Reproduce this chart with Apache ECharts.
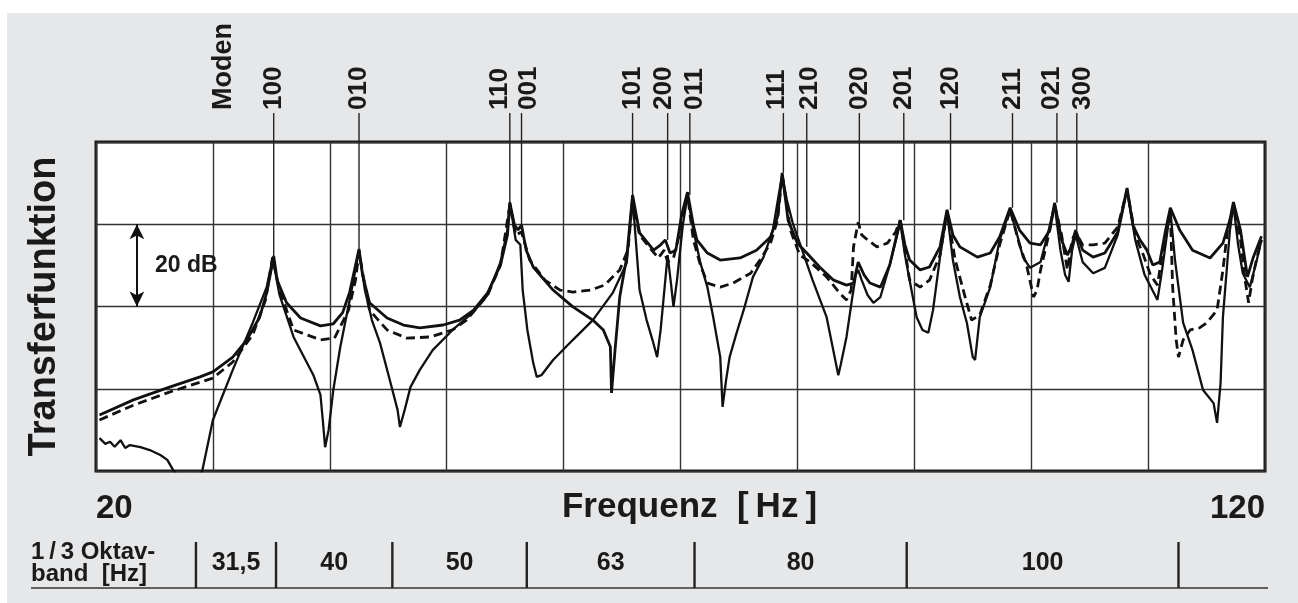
<!DOCTYPE html>
<html>
<head>
<meta charset="utf-8">
<script src="https://cdn.jsdelivr.net/npm/echarts@6/dist/echarts.min.js"></script>
<style>
html, body { margin: 0; background: #fff; }
#panel { position: absolute; left: 7px; top: 13px; right: 0; bottom: 0; background: #e6e7e9; }
#chart { position: absolute; left: 0; top: 0; width: 1298px; height: 603px; }
</style>
</head>
<body>
<div id="panel"></div>
<div id="chart"></div>
<script>
const FONT = '"Liberation Sans", Arial, Helvetica, sans-serif';
const INK = '#1a1a1a';

// transfer functions, [frequency Hz, level dB]
const curveA = [
    [20.3, 13.6], [23.2, 17.3], [26.1, 20.2], [28.9, 22.9], [30.0, 24.1], [31.7, 27.7], [32.9, 31.9], [34.0, 37.4],
    [34.6, 43.3], [35.1, 50.6], [35.2, 52.3], [35.5, 46.4], [36.3, 40.9], [37.5, 37.2], [39.2, 35.3], [40.3, 35.8],
    [41.1, 38.5], [41.7, 43.5], [42.2, 50.0], [42.5, 54.0], [42.8, 47.7], [43.4, 40.9], [44.9, 37.2], [46.3, 35.5],
    [47.7, 34.8], [49.7, 35.5], [51.1, 36.7], [52.3, 39.1], [53.5, 43.3], [54.6, 50.1], [55.2, 57.4], [55.4, 65.2],
    [55.8, 59.8], [56.1, 58.6], [56.4, 59.8], [56.8, 53.7], [57.4, 49.6], [59.1, 44.0], [60.8, 39.9], [62.5, 36.7],
    [63.4, 34.3], [64.0, 30.2], [64.1, 19.0], [64.4, 29.4], [64.8, 42.3], [65.4, 52.0], [65.9, 67.1], [66.5, 57.9],
    [67.7, 53.7], [68.3, 55.0], [68.7, 56.2], [69.1, 53.0], [69.6, 53.7], [70.1, 62.3], [70.6, 67.8], [71.1, 59.8],
    [71.4, 56.2], [72.3, 53.0], [73.4, 51.3], [75.1, 51.8], [76.5, 53.7], [77.7, 56.9], [78.3, 61.8], [78.7, 72.5],
    [79.2, 61.0], [80.0, 55.4], [80.8, 53.0], [81.9, 49.6], [83.1, 46.4], [84.2, 45.2], [84.8, 45.7], [85.2, 50.8],
    [85.7, 47.7], [86.2, 45.7], [87.1, 44.7], [87.9, 50.1], [88.8, 61.0], [89.2, 55.0], [89.6, 51.3], [90.5, 48.9],
    [91.3, 49.6], [92.2, 54.5], [92.8, 63.5], [93.3, 57.4], [93.9, 54.5], [95.4, 52.0], [96.5, 53.0], [97.3, 56.9],
    [98.2, 64.0], [99.0, 58.6], [99.9, 55.4], [100.8, 55.0], [101.6, 58.6], [102.0, 65.2], [102.6, 56.2], [103.1, 52.5],
    [103.5, 55.0], [103.8, 58.6], [104.4, 53.7], [105.3, 52.0], [106.3, 53.0], [107.4, 58.1], [108.2, 68.8], [108.7, 59.8],
    [109.3, 56.2], [109.9, 53.7], [110.4, 50.1], [111.0, 50.8], [111.5, 58.6], [111.9, 64.0], [112.7, 58.6], [113.8, 53.7],
    [115.3, 51.8], [116.4, 55.4], [117.0, 61.0], [117.3, 65.4], [117.9, 58.6], [118.5, 47.2], [119.0, 52.0], [119.7, 57.1],
];

const curveB = [
    [20.3, 12.4], [23.2, 16.0], [26.1, 19.0], [28.9, 21.6], [30.0, 22.6], [31.7, 26.5], [33.4, 33.1], [34.5, 41.6],
    [35.0, 50.1], [35.1, 51.8], [35.7, 44.0], [36.9, 34.3], [39.2, 31.9], [40.4, 32.3], [41.6, 39.1], [42.2, 46.4],
    [42.5, 53.2], [43.0, 45.2], [43.4, 39.1], [44.9, 34.3], [46.6, 32.3], [48.6, 32.6], [50.5, 34.3], [51.7, 36.7],
    [53.5, 42.8], [54.6, 50.1], [55.4, 64.7], [55.9, 57.4], [56.4, 58.1], [57.1, 51.3], [58.4, 46.4], [59.7, 44.0],
    [60.8, 43.5], [62.3, 44.0], [63.5, 45.2], [64.8, 48.9], [65.5, 53.7], [65.9, 65.6], [66.5, 57.4], [67.4, 54.2],
    [68.1, 51.8], [68.6, 53.7], [68.9, 50.8], [69.4, 51.8], [70.1, 59.8], [70.6, 67.1], [71.1, 56.2], [71.7, 50.1],
    [72.3, 45.7], [73.4, 44.7], [74.5, 45.7], [76.0, 48.1], [76.8, 51.3], [77.7, 55.4], [78.3, 61.0], [78.7, 72.0],
    [79.4, 58.6], [80.2, 52.5], [81.1, 50.8], [82.5, 47.2], [83.6, 43.3], [84.2, 41.6], [84.6, 44.0], [84.8, 54.5],
    [85.2, 60.5], [85.5, 57.4], [86.0, 56.2], [86.8, 54.5], [87.7, 55.4], [88.4, 58.1], [88.8, 61.0], [89.6, 46.4],
    [90.5, 44.7], [91.3, 46.4], [92.2, 52.5], [92.8, 63.0], [93.5, 51.3], [94.3, 42.8], [94.9, 36.7], [95.6, 37.9],
    [96.5, 45.2], [97.3, 55.0], [98.2, 63.5], [99.0, 55.0], [99.6, 50.1], [100.2, 42.3], [100.5, 44.0], [100.8, 48.9],
    [101.4, 56.2], [102.0, 64.7], [102.6, 57.4], [103.1, 48.9], [103.5, 56.2], [103.8, 58.1], [104.4, 55.0], [105.3, 55.0],
    [106.3, 55.4], [107.4, 59.3], [108.2, 68.3], [108.9, 57.4], [109.6, 52.5], [110.2, 47.7], [110.8, 45.2], [111.4, 56.2],
    [111.9, 63.0], [112.1, 44.7], [112.4, 31.9], [112.6, 27.7], [113.0, 31.9], [113.6, 34.3], [114.4, 34.8], [115.0, 36.0],
    [115.9, 39.1], [116.4, 48.9], [116.8, 58.6], [117.3, 64.7], [117.9, 56.2], [118.3, 46.4], [118.6, 40.9], [118.9, 46.4],
    [119.3, 51.8], [119.7, 56.2],
];

const curveC = [
    [20.3, 8.0], [20.8, 6.6], [21.2, 7.1], [21.6, 5.9], [22.1, 7.5], [22.5, 5.6], [22.9, 6.3], [23.8, 5.8],
    [24.6, 5.1], [25.5, 3.9], [26.1, 2.7], [26.6, 0.2], [27.2, -2.2], [28.7, -2.2], [29.1, 0.2], [30.0, 12.4],
    [31.7, 24.6], [33.4, 36.0], [34.6, 44.7], [35.0, 50.1], [35.1, 52.0], [35.7, 42.8], [36.9, 32.6], [37.7, 28.2],
    [38.6, 23.3], [39.2, 18.5], [39.4, 12.4], [39.6, 5.8], [39.9, 10.0], [40.3, 19.7], [40.9, 30.2], [41.7, 41.6],
    [42.2, 48.9], [42.5, 53.7], [43.0, 44.0], [43.6, 36.7], [44.3, 31.1], [45.2, 21.4], [45.8, 14.8], [46.0, 10.7],
    [46.4, 14.8], [46.9, 20.4], [47.7, 24.6], [48.8, 29.4], [50.5, 34.3], [52.3, 38.7], [53.5, 42.8], [54.6, 50.8],
    [55.2, 58.6], [55.4, 65.4], [55.9, 56.2], [56.3, 55.0], [56.5, 44.0], [56.9, 34.3], [57.4, 26.3], [57.7, 22.9],
    [58.1, 23.3], [59.1, 27.0], [60.8, 31.9], [62.5, 36.7], [64.2, 43.3], [65.4, 50.6], [65.9, 66.6], [66.5, 44.0],
    [67.1, 36.7], [67.6, 31.9], [68.0, 27.7], [68.3, 34.3], [68.7, 46.4], [68.9, 52.5], [69.2, 45.2], [69.4, 39.9],
    [69.7, 46.4], [70.2, 59.8], [70.6, 67.1], [71.1, 58.6], [71.7, 50.6], [72.3, 44.7], [72.8, 37.4], [73.4, 27.7],
    [73.6, 15.6], [73.9, 22.1], [74.2, 27.7], [74.8, 33.6], [75.4, 39.1], [76.2, 47.2], [77.1, 52.0], [77.9, 58.6],
    [78.4, 67.1], [78.7, 72.0], [79.1, 65.9], [79.6, 60.3], [80.5, 53.0], [81.3, 46.4], [82.5, 37.4], [83.5, 23.3],
    [83.7, 25.8], [84.2, 32.6], [84.7, 42.3], [85.0, 47.7], [85.2, 48.9], [85.5, 46.4], [86.0, 42.8], [86.5, 40.9],
    [87.1, 42.3], [87.9, 50.1], [88.8, 60.5], [89.2, 52.5], [89.6, 46.4], [90.2, 37.4], [90.7, 34.3], [91.2, 33.6],
    [91.6, 39.1], [92.2, 52.0], [92.8, 63.0], [93.3, 51.3], [93.9, 42.3], [94.5, 36.0], [95.0, 27.7], [95.2, 27.0],
    [95.6, 37.4], [96.5, 44.7], [97.3, 56.2], [98.2, 63.5], [98.8, 57.4], [99.3, 52.0], [99.9, 49.4], [100.8, 50.8],
    [101.4, 57.4], [102.0, 64.7], [102.5, 53.7], [102.9, 47.7], [103.2, 46.0], [103.5, 53.7], [103.8, 57.4], [104.4, 50.8],
    [105.3, 48.1], [106.3, 49.4], [107.4, 57.4], [108.2, 68.3], [108.9, 56.2], [109.7, 47.7], [110.8, 41.6], [111.2, 48.9],
    [111.9, 63.5], [112.3, 51.3], [113.0, 36.0], [113.8, 29.4], [114.7, 19.7], [115.6, 16.5], [115.9, 11.7], [116.2, 21.4],
    [116.4, 37.4], [117.0, 58.6], [117.3, 64.7], [117.7, 55.0], [118.1, 48.1], [118.7, 44.7], [119.3, 51.3], [119.7, 56.2],
];

// room modes: index, frequency, level where the marker line ends
const modeNames = ['100', '010', '110', '001', '101', '200', '011', '111', '210', '020', '201', '120', '211', '021', '300'];
const modeFreqs = [35.2, 42.5, 55.4, 56.4, 65.9, 68.9, 70.8, 78.8, 80.8, 85.3, 89.1, 93.1, 98.4, 102.2, 103.9];
const modeEnds = [52.0, 53.7, 65.2, 59.1, 67.1, 56.2, 67.1, 72.5, 54.5, 60.5, 61.0, 63.5, 64.0, 65.2, 58.6];

// third-octave bands
const bandEdges = [28.55, 35.4, 45.35, 56.85, 71.2, 89.35, 112.6];
const bandLabels = ['31,5', '40', '50', '63', '80', '100'];

// labels of close modes are pushed apart a little (px)
const labelNudge = {'110': -10, '001': 7, '200': -4, '011': 5, '111': -7, '210': 3, '021': -5, '300': 6};

const chart = echarts.init(document.getElementById('chart'));

const modeData = modeNames.map((n, i) => [modeFreqs[i], modeEnds[i], n]);
const bandData = bandLabels.map((l, i) => [(bandEdges[i] + bandEdges[i + 1]) / 2, l]);

const curveLine = (data, width, type) => ({
    type: 'line',
    data: data,
    showSymbol: false,
    symbol: 'none',
    xAxisIndex: 0,
    yAxisIndex: 0,
    lineStyle: {color: '#111', width: width, type: type},
    z: 3,
});

const seriesA = curveLine(curveA, 2.8, 'solid');
seriesA.markLine = {
    silent: true,
    symbol: ['arrow', 'arrow'],
    symbolSize: [11, 15],
    label: {show: false},
    lineStyle: {color: '#111', width: 2, type: 'solid'},
    data: [[{coord: [23.5, 60]}, {coord: [23.5, 40]}]],
};

chart.setOption({
    animation: false,
    backgroundColor: 'transparent',
    textStyle: {fontFamily: FONT},
    grid: [
        {left: 96, top: 142, width: 1169, height: 329, show: true, backgroundColor: '#fff', borderColor: '#1a1a1a', borderWidth: 3},
        {left: 96, top: 542, width: 1169, height: 46, show: false},
    ],
    xAxis: [
        {
            type: 'value', gridIndex: 0, min: 20, max: 120, interval: 10,
            axisLine: {show: false}, axisTick: {show: false},
            splitLine: {show: true, lineStyle: {color: '#333', width: 1.4}},
            axisLabel: {
                show: true, margin: 21, fontSize: 33, fontWeight: 'bold', color: INK,
                alignMinLabel: 'left', alignMaxLabel: 'right',
                formatter: (v) => (v === 20 || v === 120 ? String(v) : ''),
            },
            name: 'Frequenz  [\u2009Hz\u2009]',
            nameLocation: 'middle',
            nameGap: 19,
            nameMoveOverlap: false,
            nameTextStyle: {fontSize: 35, fontWeight: 'bold', color: INK, padding: [0, 0, 0, 18]},
        },
        {type: 'value', gridIndex: 1, min: 20, max: 120, show: false},
    ],
    yAxis: [
        {
            type: 'value', gridIndex: 0, min: 0, max: 80, interval: 20,
            axisLine: {show: false}, axisTick: {show: false}, axisLabel: {show: false},
            splitLine: {show: true, lineStyle: {color: '#333', width: 1.4}},
            name: 'Transferfunktion',
            nameLocation: 'middle',
            nameGap: 32,
            nameMoveOverlap: false,
            nameTextStyle: {fontSize: 38, fontWeight: 'bold', color: INK},
        },
        {type: 'value', gridIndex: 1, min: 0, max: 1, show: false},
    ],
    graphic: [
        {type: 'text', x: 224, y: 110, rotation: Math.PI / 2, style: {text: 'Moden', font: 'bold 27px ' + FONT, fill: INK, align: 'left', verticalAlign: 'middle'}, z: 10},
        {type: 'text', x: 155, y: 266, style: {text: '20 dB', font: 'bold 23px ' + FONT, fill: INK, verticalAlign: 'middle'}, z: 10},
        {type: 'text', x: 31, y: 563, style: {text: '1\u2009/\u20093 Oktav-\nband  [Hz]', font: 'bold 24px ' + FONT, lineHeight: 22, fill: INK, verticalAlign: 'middle'}},
        {type: 'line', shape: {x1: 31, y1: 588, x2: 1268, y2: 588}, style: {stroke: '#333', lineWidth: 1.6}},
    ],
    series: [
        seriesA,
        curveLine(curveB, 2.8, [9, 5]),
        curveLine(curveC, 2.3, 'solid'),
        {
            type: 'custom',
            xAxisIndex: 0,
            yAxisIndex: 0,
            clip: false,
            data: modeData,
            z: 4,
            renderItem: (params, api) => {
                const name = modeData[params.dataIndex][2];
                const top = api.coord([api.value(0), 80]);
                const end = api.coord([api.value(0), api.value(1)]);
                return {
                    type: 'group',
                    children: [
                        {type: 'line', shape: {x1: top[0], y1: top[1] - 29, x2: end[0], y2: end[1]}, style: {stroke: '#222', lineWidth: 1.4}},
                        {
                            type: 'text', x: top[0] + (labelNudge[name] || 0), y: top[1] - 32, rotation: Math.PI / 2,
                            style: {text: name, font: 'bold 26px ' + FONT, fill: INK, align: 'left', verticalAlign: 'middle'},
                        },
                    ],
                };
            },
        },
        {
            type: 'custom',
            xAxisIndex: 1,
            yAxisIndex: 1,
            clip: false,
            data: bandEdges.map((v) => [v]),
            renderItem: (params, api) => {
                const a = api.coord([api.value(0), 0]);
                const b = api.coord([api.value(0), 1]);
                return {type: 'line', shape: {x1: a[0], y1: a[1], x2: b[0], y2: b[1]}, style: {stroke: '#222', lineWidth: 2.4}};
            },
        },
        {
            type: 'custom',
            xAxisIndex: 1,
            yAxisIndex: 1,
            clip: false,
            data: bandData,
            renderItem: (params, api) => {
                const p = api.coord([api.value(0), 0.55]);
                return {
                    type: 'text', x: p[0], y: p[1],
                    style: {text: bandData[params.dataIndex][1], font: 'bold 25px ' + FONT, fill: INK, align: 'center', verticalAlign: 'middle'},
                };
            },
        },
    ],
});
</script>
</body>
</html>
